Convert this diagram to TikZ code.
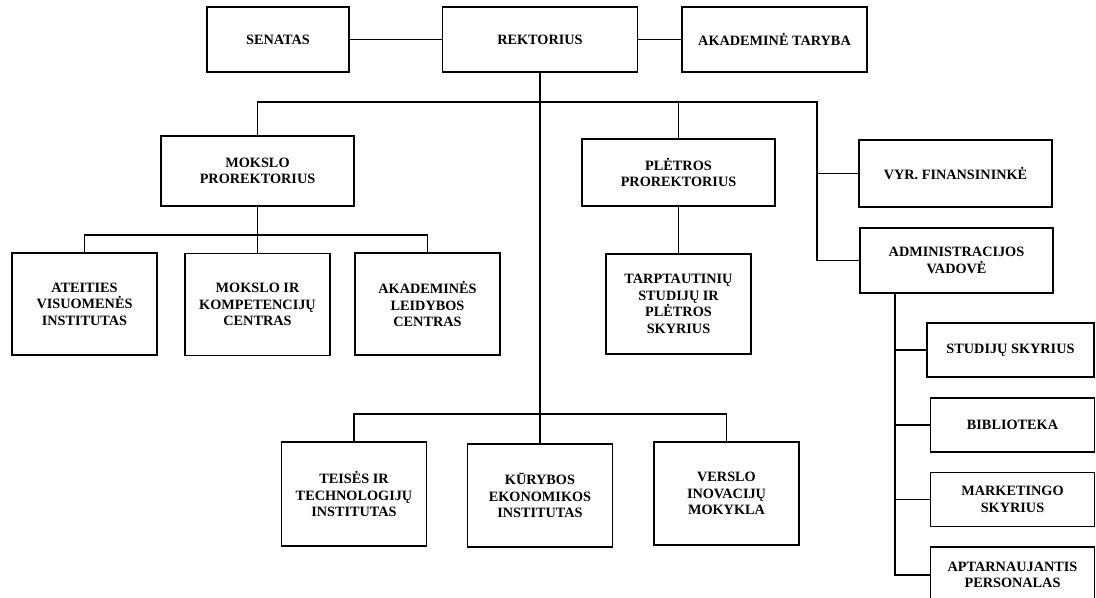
\documentclass[tikz,border=0pt]{standalone}
\usepackage{fontspec}
\setmainfont{Liberation Serif}
\usetikzlibrary{positioning,calc}
\tikzstyle{unit}=[draw,line width=1.3pt,align=center,inner sep=2pt,
  font=\bfseries\fontsize{10.7}{12.4}\selectfont]
\tikzstyle{midunit}=[unit,minimum width=144.75pt,minimum height=50.25pt]
\tikzstyle{lowunit}=[unit,minimum width=108.75pt,minimum height=76.5pt]
\tikzstyle{sideunit}=[unit,minimum width=123pt,minimum height=40.5pt]

\begin{document}
\begin{tikzpicture}[x=0.75pt,y=-0.75pt,line width=0.9pt]
    \useasboundingbox (0,0) rectangle (1096,598);
    % top row
    \node [unit,minimum width=106.5pt,minimum height=48.75pt] (senatas) at (278,39.5) {SENATAS};
    \node [unit,minimum width=146.25pt,minimum height=48.75pt] (rektorius) at (540,39.5) {REKTORIUS};
    \node [unit,minimum width=138.75pt,minimum height=48.75pt] (taryba) at (774.5,39.5) {AKADEMINĖ TARYBA};
    % second row
    \node [midunit,minimum height=52.5pt] (mokslo) at (257.5,171) {MOKSLO\\PROREKTORIUS};
    \node [midunit] (pletros) at (678.5,172.5) {PLĖTROS\\PROREKTORIUS};
    \node [midunit] (finans) at (955.5,173.5) {VYR. FINANSININKĖ};
    \node [midunit,minimum height=48.75pt] (admin) at (956.5,260.5) {ADMINISTRACIJOS\\VADOVĖ};
    % third row
    \node [lowunit] (ateities) at (84.5,304) {ATEITIES\\VISUOMENĖS\\INSTITUTAS};
    \node [lowunit] (kompet) at (257.5,304.5) {MOKSLO IR\\KOMPETENCIJŲ\\CENTRAS};
    \node [lowunit] (leidybos) at (427.5,304) {AKADEMINĖS\\LEIDYBOS\\CENTRAS};
    \node [lowunit,minimum height=75pt] (tarpt) at (678.5,304) {TARPTAUTINIŲ\\STUDIJŲ IR\\PLĖTROS\\SKYRIUS};
    % bottom row
    \node [lowunit,minimum height=78pt] (teises) at (354,494) {TEISĖS IR\\TECHNOLOGIJŲ\\INSTITUTAS};
    \node [lowunit,minimum height=77pt] (kurybos) at (540,495.5) {KŪRYBOS\\EKONOMIKOS\\INSTITUTAS};
    \node [lowunit,minimum height=77pt] (verslo) at (726.5,493.5) {VERSLO\\INOVACIJŲ\\MOKYKLA};
    % administration units
    \node [sideunit,minimum width=125pt] (studiju) at (1010.5,350) {STUDIJŲ SKYRIUS};
    \node [sideunit] (biblioteka) at (1012.5,425) {BIBLIOTEKA};
    \node [sideunit] (marketingo) at (1012.5,499.5) {MARKETINGO\\SKYRIUS};
    \node [sideunit,minimum height=42pt] (aptarn) at (1012.5,575) {APTARNAUJANTIS\\PERSONALAS};

    \coordinate (topbus) at (817,102);
    \coordinate (mokbus) at (257.5,235);
    \coordinate (botbus) at (540,414);
    \coordinate (admbus) at (895,0);

    \draw (senatas) -- (rektorius) -- (taryba);
    \draw (rektorius) -- (kurybos);
    \draw (mokslo.north) |- (topbus) |- (admin.west);
    \draw (pletros.north) -- (pletros.north |- topbus);
    \draw (finans.west) -- (finans.west -| topbus);
    \draw (mokslo) -- (kompet);
    \draw (ateities.north) |- (mokbus) -| (leidybos.north);
    \draw (pletros) -- (tarpt);
    \draw (teises.north) |- (botbus) -| (verslo.north);
    \draw (admbus |- admin.south) |- (aptarn.west);
    \foreach \n in {studiju,biblioteka,marketingo}
      \draw (\n.west) -- (\n.west -| admbus);
\end{tikzpicture}
\end{document}
